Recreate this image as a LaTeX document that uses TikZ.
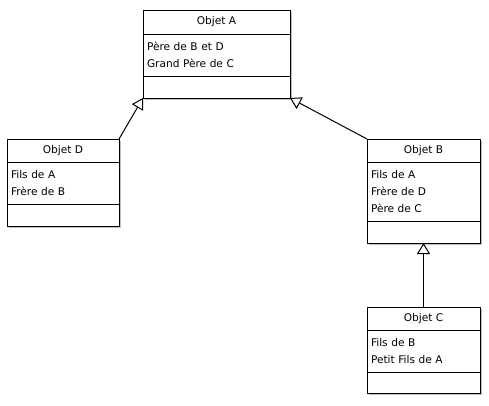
\documentclass[tikz,border=0pt]{standalone}
\usepackage{fontspec}
\setmainfont{DejaVu Sans}
\usetikzlibrary{shapes, arrows.meta, shadows, positioning}

\tikzset{
  part/.style={draw, fill=white, line width=1pt, outer sep=0pt, inner xsep=4pt,
    font=\fontsize{10.6}{17}\selectfont,
    drop shadow={shadow xshift=1.5pt, shadow yshift=-1.5pt, fill=black!25, opacity=1}},
  title/.style={part, minimum width=#1, minimum height=23pt, align=center},
  attrs/.style={part, minimum width=#1, text width=#1-8pt, align=left},
  ops/.style={part, minimum width=#1, minimum height=22pt},
  herit/.style={-{Triangle[open, width=13pt, length=11pt]}, line width=1pt}
}

\begin{document}
\begin{tikzpicture}
  \useasboundingbox (0,0) rectangle (489pt,-405pt);

  % Objet A
  \node (atitle) [title=147pt, anchor=north west, minimum height=24pt] at (143pt,-10pt) {Objet A};
  \node (aattrs) [attrs=147pt, minimum height=42pt, below=0pt of atitle] {Père de B et D\\Grand Père de C};
  \node (aops) [ops=147pt, below=0pt of aattrs] {};

  %%%%%%%%%%%%%%%%%%
  % Objet D
  \node (dtitle) [title=112pt, below left=41pt and 24pt of aops.south west] {Objet D};
  \node (dattrs) [attrs=112pt, minimum height=42pt, below=0pt of dtitle] {Fils de A\\Frère de B};
  \node (dops) [ops=112pt, below=0pt of dattrs] {};

  %%%%%%%%%%%%%%%%%%
  % Objet B
  \node (btitle) [title=113pt, below right=41pt and 77pt of aops.south east] {Objet B};
  \node (battrs) [attrs=113pt, minimum height=59pt, below=0pt of btitle] {Fils de A\\Frère de D\\Père de C};
  \node (bops) [ops=113pt, below=0pt of battrs] {};

  %%%%%%%%%%%%%%%%%%
  % Objet C
  \node (ctitle) [title=113pt, below=64pt of bops] {Objet C};
  \node (cattrs) [attrs=113pt, minimum height=42pt, below=0pt of ctitle] {Fils de B\\Petit Fils de A};
  \node (cops) [ops=113pt, minimum height=21pt, below=0pt of cattrs] {};

  %%%%%%%%%%%%%%%%%%%%
  \draw [herit] (dtitle.north east) to (aops.south west);
  \draw [herit] (btitle.north west) to (aops.south east);
  \draw [herit] (ctitle.north) to (bops.south);

\end{tikzpicture}
\end{document}
